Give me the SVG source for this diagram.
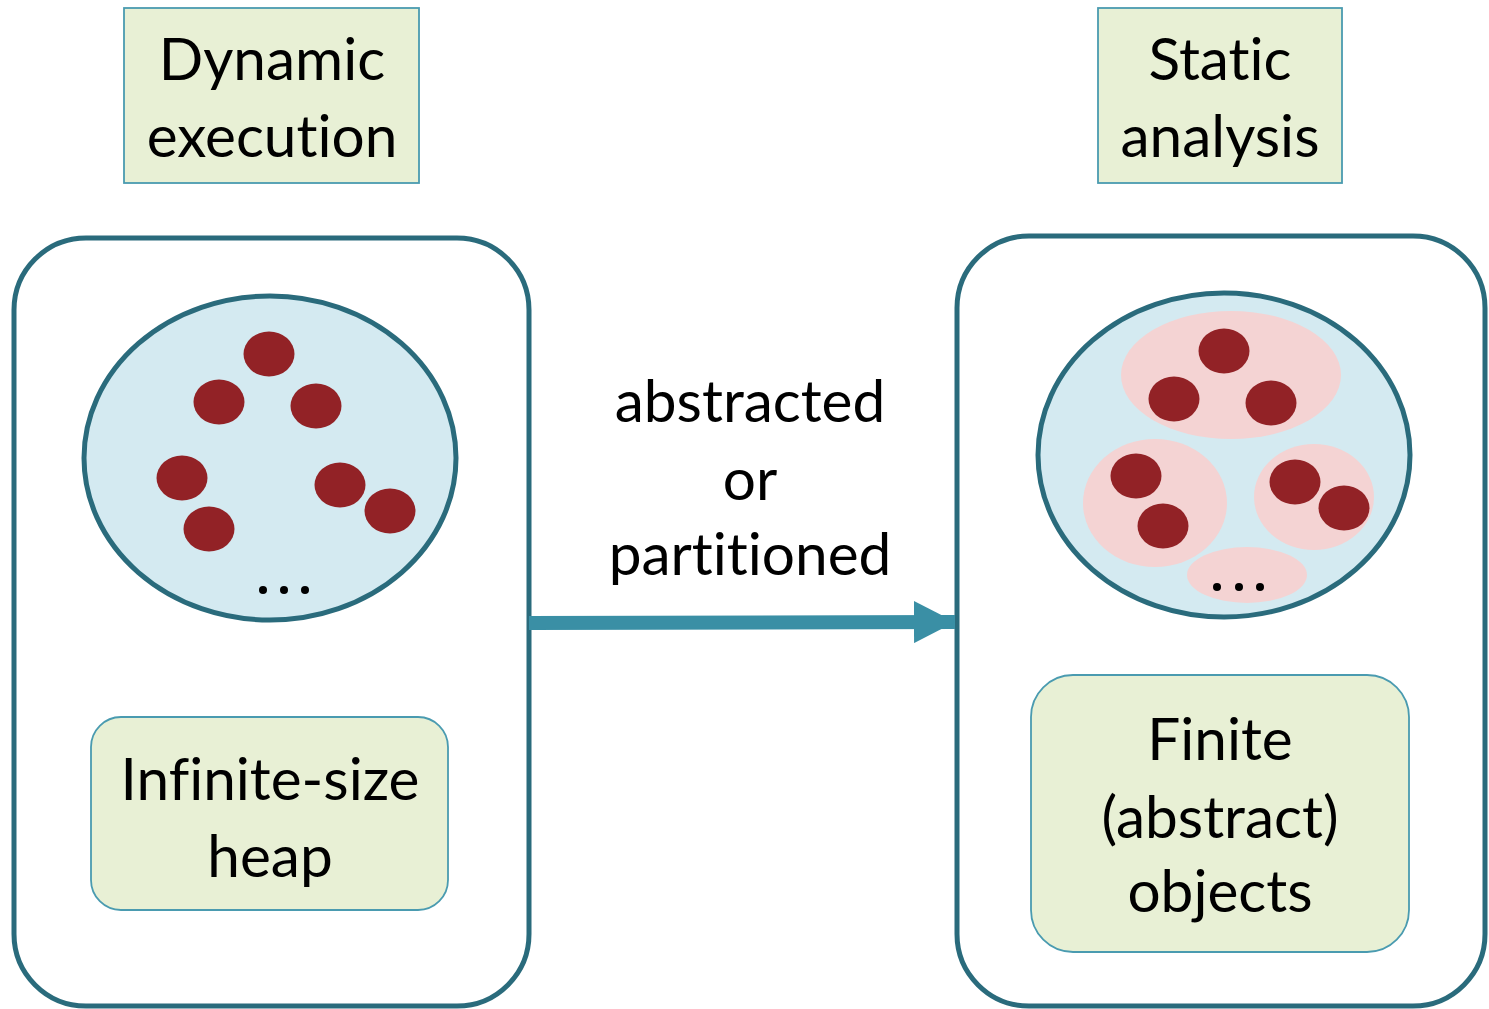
<svg xmlns="http://www.w3.org/2000/svg" width="1489" height="1009" viewBox="0 0 1489 1009">
<style>
.outer{fill:#fff;stroke:#2a6b7c;stroke-width:5}
.heap{fill:#d4eaf1;stroke:#2a6b7c;stroke-width:5}
.obj{fill:#922226}
.part{fill:#f4d3d3}
.lbl{fill:#e8f0d5;stroke:#4a9bb0;stroke-width:1.8}
.dot{fill:#000}
text{font-family:"Lato","Noto Sans",sans-serif;font-size:58.5px;fill:#000;text-anchor:middle;font-variant-ligatures:none}
</style>
<defs>
<marker id="ah" viewBox="0 0 41 42" refX="41" refY="21" markerWidth="41" markerHeight="42" markerUnits="userSpaceOnUse" orient="auto">
<path d="M0,0 L41,21 L0,42 Z" fill="#3a8fa5"/>
</marker>
</defs>
<g id="title-dynamic">
<rect class="lbl" x="124" y="8" width="295" height="175"/>
<text x="272" y="80">Dynamic</text>
<text x="272" y="157">execution</text>
</g>
<g id="title-static">
<rect class="lbl" x="1098" y="8" width="244" height="175"/>
<text x="1220" y="80">Static</text>
<text x="1220" y="157">analysis</text>
</g>
<g id="dynamic-panel">
<rect class="outer" x="14" y="238" width="515" height="768" rx="72"/>
<ellipse class="heap" cx="270" cy="458" rx="186" ry="162"/>
<ellipse class="obj" cx="269" cy="354" rx="25.5" ry="22.5"/>
<ellipse class="obj" cx="219" cy="402" rx="25.5" ry="22.5"/>
<ellipse class="obj" cx="316" cy="406" rx="25.5" ry="22.5"/>
<ellipse class="obj" cx="182" cy="478" rx="25.5" ry="22.5"/>
<ellipse class="obj" cx="209" cy="529" rx="25.5" ry="22.5"/>
<ellipse class="obj" cx="340" cy="485" rx="25.5" ry="22.5"/>
<ellipse class="obj" cx="390" cy="511" rx="25.5" ry="22.5"/>
<circle class="dot" cx="263" cy="590" r="4"/>
<circle class="dot" cx="284" cy="590" r="4"/>
<circle class="dot" cx="305" cy="590" r="4"/>
</g>
<g id="infinite-heap">
<rect class="lbl" x="91" y="717" width="357" height="193" rx="30"/>
<text x="270" y="800">Infinite-size</text>
<text x="270" y="877">heap</text>
</g>
<g id="static-panel">
<rect class="outer" x="957" y="236" width="528" height="770" rx="72"/>
<ellipse class="heap" cx="1224" cy="455" rx="186" ry="162"/>
<ellipse class="part" cx="1231" cy="375" rx="110" ry="64"/>
<ellipse class="part" cx="1155" cy="503" rx="72" ry="64"/>
<ellipse class="part" cx="1314" cy="497" rx="60" ry="53"/>
<ellipse class="part" cx="1247" cy="575" rx="60" ry="28"/>
<ellipse class="obj" cx="1224" cy="351" rx="25.5" ry="22.5"/>
<ellipse class="obj" cx="1174" cy="399" rx="25.5" ry="22.5"/>
<ellipse class="obj" cx="1271" cy="403" rx="25.5" ry="22.5"/>
<ellipse class="obj" cx="1136" cy="476" rx="25.5" ry="22.5"/>
<ellipse class="obj" cx="1163" cy="526" rx="25.5" ry="22.5"/>
<ellipse class="obj" cx="1295" cy="482" rx="25.5" ry="22.5"/>
<ellipse class="obj" cx="1344" cy="508" rx="25.5" ry="22.5"/>
<circle class="dot" cx="1217" cy="587" r="4"/>
<circle class="dot" cx="1239" cy="587" r="4"/>
<circle class="dot" cx="1260" cy="587" r="4"/>
</g>
<g id="finite-objects">
<rect class="lbl" x="1031" y="675" width="378" height="277" rx="42"/>
<text x="1220" y="760">Finite</text>
<text x="1220" y="838">(abstract)</text>
<text x="1220" y="912">objects</text>
</g>
<g id="connectors">
<line x1="529" y1="623" x2="955" y2="622" stroke="#3a8fa5" stroke-width="14" marker-end="url(#ah)"/>
<text x="750" y="422">abstracted</text>
<text x="750" y="500">or</text>
<text x="750" y="575">partitioned</text>
</g>
</svg>
